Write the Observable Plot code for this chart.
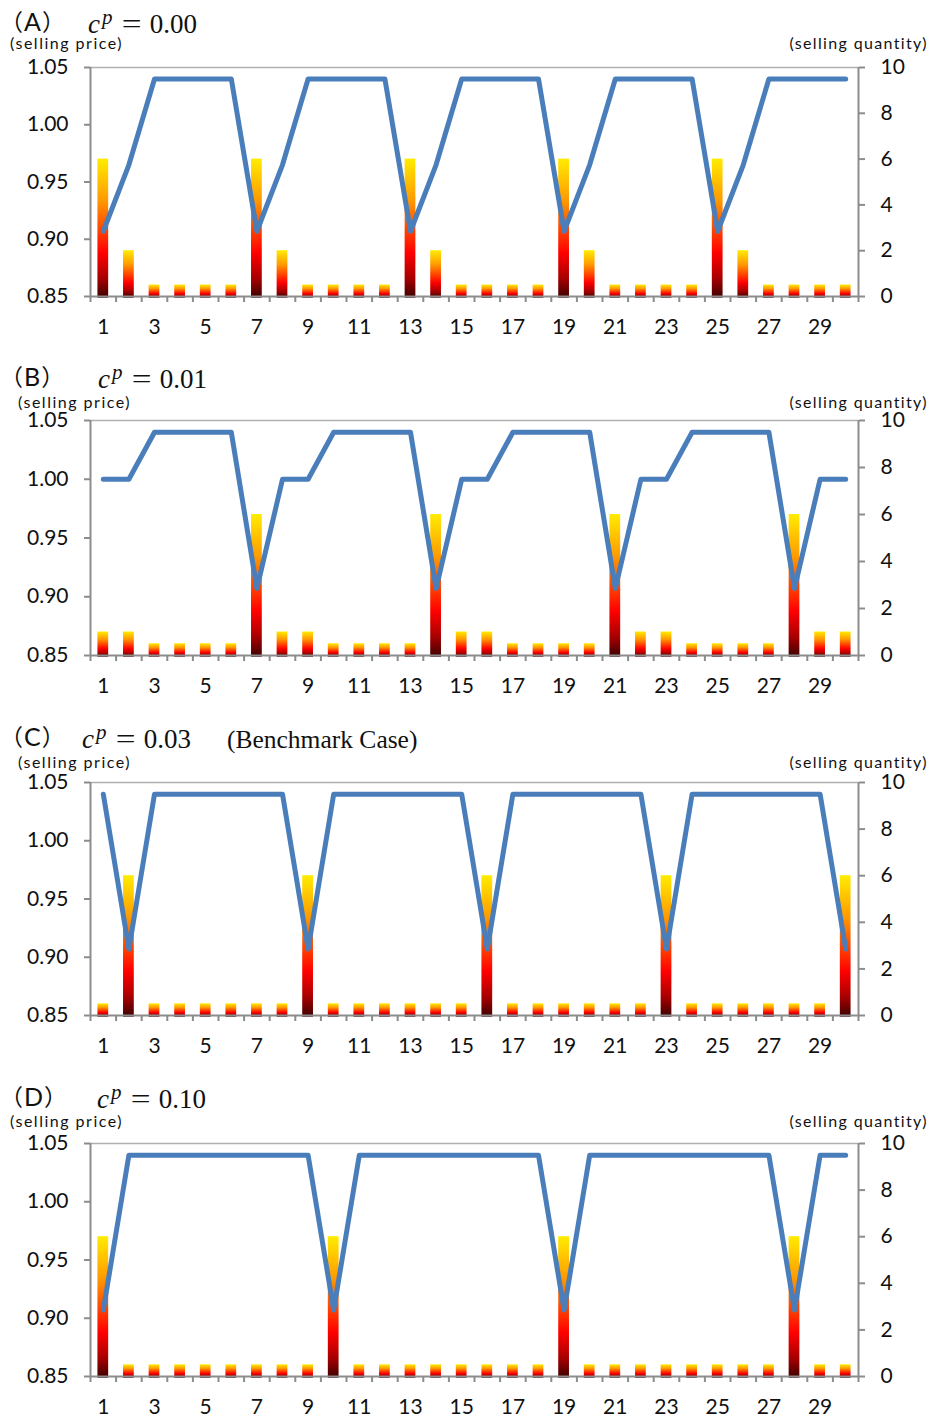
<!DOCTYPE html>
<html><head><meta charset="utf-8">
<script src="https://cdn.jsdelivr.net/npm/d3@7"></script>
<script src="https://cdn.jsdelivr.net/npm/@observablehq/plot@0.6"></script>
<style>
body{margin:0;background:#fff;}
#root{position:relative;width:933px;height:1421px;font-family:Lato,sans-serif;color:#111;overflow:hidden;}
.lab{position:absolute;white-space:nowrap;line-height:1;}
.pid{font-family:"Noto Sans CJK JP",sans-serif;font-size:23px;}
.pid .L{font-family:Lato,sans-serif;font-size:25px;margin:0 1px;}
.math{font-family:"Liberation Serif",serif;font-size:27px;line-height:0.85;}
.math .c{font-style:italic;}
.math .p{font-style:italic;font-size:21px;margin-left:2px;position:relative;top:-9px;}
.math .eq{display:inline-block;transform:scaleX(1.3);margin:0 10px 0 12px;}
.math .ex{margin-left:36px;font-size:25.5px;}
.axlab{font-family:Lato,sans-serif;font-size:16px;line-height:0.9;}
.plot{position:absolute;left:0;}
</style></head><body><div id="root"></div><script>
// categories (periods)
const days = [1,2,3,4,5,6,7,8,9,10,11,12,13,14,15,16,17,18,19,20,21,22,23,24,25,26,27,28,29,30];
const dayLabels = [1,3,5,7,9,11,13,15,17,19,21,23,25,27,29];
const priceTicks = [0.85,0.90,0.95,1.00,1.05];
const qtyTicks = [0,2,4,6,8,10];

// (A) c^p = 0.00
const priceA = [0.907,0.965,1.04,1.04,1.04,1.04, 0.907,0.965,1.04,1.04,1.04,1.04, 0.907,0.965,1.04,1.04,1.04,1.04, 0.907,0.965,1.04,1.04,1.04,1.04, 0.907,0.965,1.04,1.04,1.04,1.04];
const qtyA   = [6,2,0.5,0.5,0.5,0.5, 6,2,0.5,0.5,0.5,0.5, 6,2,0.5,0.5,0.5,0.5, 6,2,0.5,0.5,0.5,0.5, 6,2,0.5,0.5,0.5,0.5];
// (B) c^p = 0.01
const priceB = [1.00,1.00,1.04,1.04,1.04,1.04,0.907, 1.00,1.00,1.04,1.04,1.04,1.04,0.907, 1.00,1.00,1.04,1.04,1.04,1.04,0.907, 1.00,1.00,1.04,1.04,1.04,1.04,0.907, 1.00,1.00];
const qtyB   = [1,1,0.5,0.5,0.5,0.5,6, 1,1,0.5,0.5,0.5,0.5,6, 1,1,0.5,0.5,0.5,0.5,6, 1,1,0.5,0.5,0.5,0.5,6, 1,1];
// (C) c^p = 0.03 (Benchmark Case)
const priceC = [1.04,0.907, 1.04,1.04,1.04,1.04,1.04,1.04,0.907, 1.04,1.04,1.04,1.04,1.04,1.04,0.907, 1.04,1.04,1.04,1.04,1.04,1.04,0.907, 1.04,1.04,1.04,1.04,1.04,1.04,0.907];
const qtyC   = [0.5,6, 0.5,0.5,0.5,0.5,0.5,0.5,6, 0.5,0.5,0.5,0.5,0.5,0.5,6, 0.5,0.5,0.5,0.5,0.5,0.5,6, 0.5,0.5,0.5,0.5,0.5,0.5,6];
// (D) c^p = 0.10
const priceD = [0.907, 1.04,1.04,1.04,1.04,1.04,1.04,1.04,1.04,0.907, 1.04,1.04,1.04,1.04,1.04,1.04,1.04,1.04,0.907, 1.04,1.04,1.04,1.04,1.04,1.04,1.04,1.04,0.907, 1.04,1.04];
const qtyD   = [6, 0.5,0.5,0.5,0.5,0.5,0.5,0.5,0.5,6, 0.5,0.5,0.5,0.5,0.5,0.5,0.5,0.5,6, 0.5,0.5,0.5,0.5,0.5,0.5,0.5,0.5,6, 0.5,0.5];

const panels = [
  {key:"A", cp:"0.00", extra:"", price:priceA, qty:qtyA, top:67, bottom:296, titleY:22, mathX:88, labY:43, spX:10},
  {key:"B", cp:"0.01", extra:"", price:priceB, qty:qtyB, top:420, bottom:655, titleY:377, mathX:98, labY:402, spX:18},
  {key:"C", cp:"0.03", extra:"(Benchmark Case)", price:priceC, qty:qtyC, top:782, bottom:1015, titleY:737, mathX:82, labY:762, spX:18},
  {key:"D", cp:"0.10", extra:"", price:priceD, qty:qtyD, top:1143, bottom:1376, titleY:1097, mathX:97, labY:1121, spX:10}
];

const root = document.getElementById("root");
const q2p = q => 0.85 + q * 0.02;
const p2q = v => Math.round((v - 0.85) / 0.02);
const ns = "http://www.w3.org/2000/svg";

function addLabel(html, cls, x, top, right, spacing) {
  const d = document.createElement("div");
  d.className = "lab " + cls;
  d.innerHTML = html;
  d.style.top = top + "px";
  if (spacing) d.style.letterSpacing = spacing + "px";
  if (right) d.style.right = (933 - x) + "px"; else d.style.left = x + "px";
  root.appendChild(d);
}

for (const p of panels) {
  const data = days.map((d, i) => ({day: d, price: p.price[i], qty: p.qty[i]}));
  const h = p.bottom - p.top;
  const mt = 15, mb = 50;
  const svg = Plot.plot({
    width: 933, height: h + mt + mb,
    marginLeft: 90, marginRight: 75, marginTop: mt, marginBottom: mb,
    style: {fontFamily: "Lato, sans-serif", fontSize: "21px", color: "#111", background: "transparent", overflow: "visible"},
    x: {domain: [0.5, 30.5], label: null},
    y: {domain: [0.85, 1.05], label: null},
    marks: [
      Plot.ruleY([1.05], {stroke: "#b0b0b0", strokeWidth: 1.5}),
      Plot.rect(data, {x1: d => d.day - 0.21, x2: d => d.day + 0.21, y1: d => q2p(0) - 0.0015, y2: d => q2p(d.qty), fill: `url(#grad${p.key})`}),
      Plot.ruleY([0.85], {stroke: "#8c8c8c", strokeWidth: 2}),
      Plot.ruleX([0.5, 30.5], {stroke: "#8c8c8c", strokeWidth: 2}),
      Plot.axisX({ticks: d3.range(0.5, 31, 1), tickSize: 6, tickFormat: () => "", stroke: "#8c8c8c", strokeWidth: 2, label: null}),
      Plot.axisX({ticks: dayLabels, tickSize: 0, tickPadding: 23, tickFormat: d => String(d), label: null}),
      Plot.axisY({anchor: "left", ticks: priceTicks, tickFormat: d3.format(".2f"), tickSize: 6, tickPadding: 16, stroke: "#8c8c8c", strokeWidth: 2, label: null}),
      Plot.axisY({anchor: "right", ticks: qtyTicks.map(q2p), tickFormat: v => String(p2q(v)), tickSize: 6, tickPadding: 16, stroke: "#8c8c8c", strokeWidth: 2, label: null}),
      Plot.line(data, {x: "day", y: "price", stroke: "#4a7ebb", strokeWidth: 5, strokeLinecap: "round", strokeLinejoin: "round"})
    ]
  });
  const defs = document.createElementNS(ns, "defs");
  defs.innerHTML = `<linearGradient id="grad${p.key}" x1="0" y1="0" x2="0" y2="1">
    <stop offset="0" stop-color="#ffec00"/>
    <stop offset="0.3" stop-color="#ff9a00"/>
    <stop offset="0.5" stop-color="#ff4800"/>
    <stop offset="0.68" stop-color="#ff0000"/>
    <stop offset="0.86" stop-color="#a80000"/>
    <stop offset="1" stop-color="#3c0000"/>
  </linearGradient>`;
  svg.insertBefore(defs, svg.firstChild);
  svg.classList.add("plot");
  svg.style.top = (p.top - mt) + "px";
  root.appendChild(svg);

  addLabel(`（<span class="L">${p.key}</span>）`, "pid", 0, p.titleY - 13);
  addLabel(`<span class="c">c</span><span class="p">p</span><span class="eq">=</span><span>${p.cp}</span>${p.extra ? `<span class="ex">${p.extra}</span>` : ""}`, "math", p.mathX, p.titleY - 9);
  addLabel("(selling price)", "axlab", p.spX, p.labY - 7, false, 1.5);
  addLabel("(selling quantity)", "axlab", 928, p.labY - 7, true, 1.35);
}
</script></body></html>
